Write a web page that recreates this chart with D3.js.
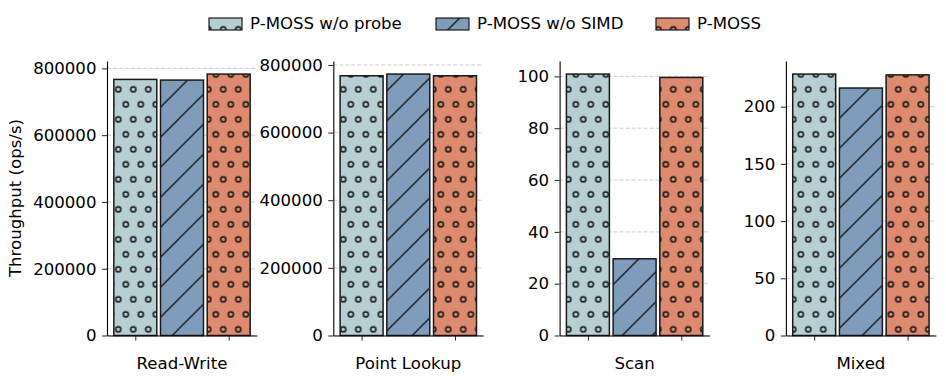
<!DOCTYPE html>
<html lang="en">
<head>
  <meta charset="utf-8">
  <title>P-MOSS throughput</title>
  <script src="https://d3js.org/d3.v7.min.js"></script>
  <style>
    body { margin: 0; background: #fff; }
    #chart text { font-family: "DejaVu Sans", sans-serif; font-size: 16.6px; fill: #000; }
  </style>
</head>
<body>
  <div id="chart"></div>

  <script>
    "use strict"

    // data
    var categories = ["Read-Write", "Point Lookup", "Scan", "Mixed"];
    var series = ["P-MOSS w/o probe", "P-MOSS w/o SIMD", "P-MOSS"];
    var noProbe = [767000, 768000, 100.9, 228.5];
    var noSimd  = [765000, 773000, 29.6, 216.3];
    var pmoss   = [783000, 768000, 99.6, 227.8];
    var yTicks = [
      [0, 200000, 400000, 600000, 800000],
      [0, 200000, 400000, 600000, 800000],
      [0, 20, 40, 60, 80, 100],
      [0, 50, 100, 150, 200]
    ];

    var colors = ["#b5cfd3", "#7f9dba", "#dd8a6f"];
    var patternIds = ["pat-probe", "pat-simd", "pat-pmoss"];

    var largura = 946, altura = 383;
    var svg = d3.select("#chart").append("svg")
      .attr("width", largura)
      .attr("height", altura);
    var defs = svg.append("defs");

    // hatch 'o'
    function dotPattern(id, cor) {
      var p = defs.append("pattern")
        .attr("id", id)
        .attr("patternUnits", "userSpaceOnUse")
        .attr("x", 9.55).attr("y", 21.8)
        .attr("width", 15).attr("height", 30);
      p.append("rect").attr("width", 15).attr("height", 30).attr("fill", cor);
      [[3.75, 7.5], [11.25, 22.5]].forEach(function(c) {
        p.append("circle")
          .attr("cx", c[0]).attr("cy", c[1]).attr("r", 2.6)
          .attr("fill", "none").attr("stroke", "#111").attr("stroke-width", 1.5);
      });
    }
    // hatch '/'
    function linePattern(id, cor) {
      var p = defs.append("pattern")
        .attr("id", id)
        .attr("patternUnits", "userSpaceOnUse")
        .attr("x", -2.3).attr("y", 0)
        .attr("width", 30).attr("height", 30);
      p.append("rect").attr("width", 30).attr("height", 30).attr("fill", cor);
      p.append("path")
        .attr("d", "M0,30L30,0M-5,5L5,-5M25,35L35,25")
        .attr("stroke", "#111").attr("stroke-width", 1.3);
    }
    dotPattern(patternIds[0], colors[0]);
    linePattern(patternIds[1], colors[1]);
    dotPattern(patternIds[2], colors[2]);

    var valores = [noProbe, noSimd, pmoss];
    var topo = 61, base = 335.5, larguraPainel = 150;

    categories.forEach(function(cat, i) {
      var esq = 107 + i * 226.3;
      var dados = valores.map(function(v, s) { return {serie: s, valor: v[i]}; });
      var maxV = d3.max(dados, d => d.valor) * 1.05;

      var x = d3.scaleLinear().domain([-1.606, 1.606]).range([esq, esq + larguraPainel]);
      var y = d3.scaleLinear().domain([0, maxV]).range([base, topo]);

      var g = svg.append("g");

      // grid
      g.selectAll("line.grid")
        .data(yTicks[i])
        .enter().append("line")
          .attr("class", "grid")
          .attr("x1", esq).attr("x2", esq + larguraPainel)
          .attr("y1", d => y(d)).attr("y2", d => y(d))
          .attr("stroke", "#cccccc")
          .attr("stroke-width", 1)
          .attr("stroke-dasharray", "4,2");

      // bars
      g.selectAll("rect.bar")
        .data(dados)
        .enter().append("rect")
          .attr("class", "bar")
          .attr("x", d => x(d.serie - 1 - 0.46))
          .attr("width", d => x(d.serie - 1 + 0.46) - x(d.serie - 1 - 0.46))
          .attr("y", d => y(d.valor))
          .attr("height", d => y(0) - y(d.valor))
          .attr("fill", d => "url(#" + patternIds[d.serie] + ")")
          .attr("stroke", "#1a1a1a")
          .attr("stroke-width", 1.5);

      // axes
      var eixoY = g.append("g")
        .attr("transform", "translate(" + esq + ",0)")
        .call(d3.axisLeft(y).tickValues(yTicks[i]).tickFormat(d3.format("d"))
          .tickSize(5).tickPadding(5.5).tickSizeOuter(0));
      var eixoX = g.append("g")
        .attr("transform", "translate(0," + base + ")")
        .call(d3.axisBottom(x).tickValues([-1, 1]).tickFormat("")
          .tickSize(5).tickSizeOuter(0));
      [eixoY, eixoX].forEach(function(e) {
        e.select(".domain").attr("stroke", "#000").attr("stroke-width", 1.1);
        e.selectAll(".tick line").attr("stroke", "#222").attr("stroke-width", 1);
        e.selectAll("text").attr("font-family", null).attr("font-size", null);
      });

      g.append("text")
        .attr("x", esq + larguraPainel / 2)
        .attr("y", 369)
        .attr("text-anchor", "middle")
        .text(cat);
    });

    svg.append("text")
      .attr("transform", "translate(21,198) rotate(-90)")
      .attr("text-anchor", "middle")
      .text("Throughput (ops/s)");

    // legend
    var legX = [209, 436, 656];
    series.forEach(function(nome, s) {
      svg.append("rect")
        .attr("x", legX[s]).attr("y", 18)
        .attr("width", 33).attr("height", 12)
        .attr("fill", "url(#" + patternIds[s] + ")")
        .attr("stroke", "#1a1a1a").attr("stroke-width", 1.2);
      svg.append("text")
        .attr("x", legX[s] + 41).attr("y", 29)
        .text(nome);
    });
  </script>
</body>
</html>
